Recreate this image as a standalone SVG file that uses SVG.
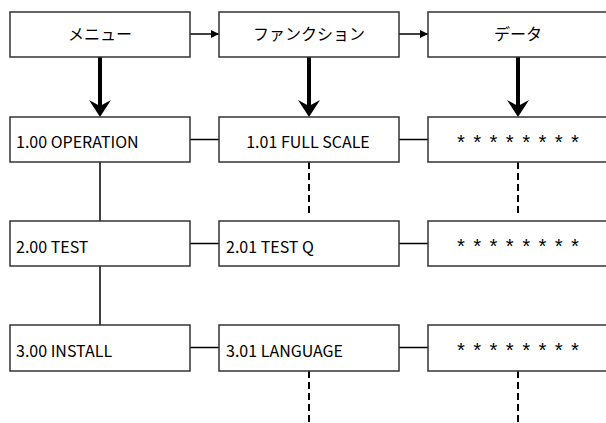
<svg xmlns="http://www.w3.org/2000/svg" width="606" height="423" viewBox="0 0 606 423">
<defs>
<style>
.box{fill:#fff;stroke:#333;stroke-width:1.5}
.jp{font-family:"Noto Sans CJK JP","Noto Sans",sans-serif;font-size:16px;fill:#000;text-anchor:middle}
.lb{font-family:"Noto Sans CJK JP","Noto Sans",sans-serif;font-size:16px;fill:#000}
.st{font-family:"Liberation Mono","DejaVu Sans Mono",monospace;font-size:20px;fill:#000;text-anchor:middle}
.ln{stroke:#000;stroke-width:1.5;fill:none}
.dash{stroke:#000;stroke-width:2;stroke-dasharray:7 4;fill:none}
.thick{stroke:#000;stroke-width:4;fill:none}
</style>
<marker id="ah" viewBox="0 0 10 10" refX="10" refY="5" markerWidth="8" markerHeight="9" markerUnits="userSpaceOnUse" orient="auto">
<path d="M0,0 L10,5 L0,10 Z" fill="#000"/>
</marker>
</defs>
<g id="connectors">
<line class="ln" x1="190" y1="34" x2="219" y2="34" marker-end="url(#ah)"/>
<line class="ln" x1="399" y1="34" x2="428" y2="34" marker-end="url(#ah)"/>
<line class="thick" x1="100" y1="57" x2="100" y2="108"/>
<path d="M100,117 L89,100 L100,106 L111,100 Z" fill="#000"/>
<line class="thick" x1="309" y1="57" x2="309" y2="108"/>
<path d="M309,117 L298,100 L309,106 L320,100 Z" fill="#000"/>
<line class="thick" x1="518" y1="57" x2="518" y2="108"/>
<path d="M518,117 L507,100 L518,106 L529,100 Z" fill="#000"/>
<line class="ln" x1="190" y1="139.5" x2="219" y2="139.5"/>
<line class="ln" x1="399" y1="139.5" x2="428" y2="139.5"/>
<line class="ln" x1="190" y1="243.5" x2="219" y2="243.5"/>
<line class="ln" x1="399" y1="243.5" x2="428" y2="243.5"/>
<line class="ln" x1="190" y1="347.5" x2="219" y2="347.5"/>
<line class="ln" x1="399" y1="347.5" x2="428" y2="347.5"/>
<line class="ln" x1="100" y1="162" x2="100" y2="221"/>
<line class="ln" x1="100" y1="266" x2="100" y2="325"/>
<line class="dash" x1="309" y1="162" x2="309" y2="215"/>
<line class="dash" x1="518" y1="162" x2="518" y2="215"/>
<line class="dash" x1="309" y1="371" x2="309" y2="423"/>
<line class="dash" x1="518" y1="371" x2="518" y2="423"/>
</g>
<g id="menu"><rect class="box" x="10" y="12" width="180" height="45"/><text class="jp" x="100" y="40">メニュー</text></g>
<g id="function"><rect class="box" x="219" y="12" width="180" height="45"/><text class="jp" x="309" y="40">ファンクション</text></g>
<g id="data"><rect class="box" x="428" y="12" width="180" height="45"/><text class="jp" x="518" y="40">データ</text></g>
<g id="op"><rect class="box" x="10" y="117" width="180" height="45"/><text class="lb" x="16" y="148">1.00 OPERATION</text></g>
<g id="fullscale"><rect class="box" x="219" y="117" width="180" height="45"/><text class="lb" x="308" y="148" text-anchor="middle">1.01 FULL SCALE</text></g>
<g id="data1"><rect class="box" x="428" y="117" width="180" height="45"/><text class="st" x="518" y="150" textLength="126" lengthAdjust="spacing">* * * * * * * *</text></g>
<g id="test"><rect class="box" x="10" y="221" width="180" height="45"/><text class="lb" x="16" y="253">2.00 TEST</text></g>
<g id="testq"><rect class="box" x="219" y="221" width="180" height="45"/><text class="lb" x="226" y="253">2.01 TEST Q</text></g>
<g id="data2"><rect class="box" x="428" y="221" width="180" height="45"/><text class="st" x="518" y="254" textLength="126" lengthAdjust="spacing">* * * * * * * *</text></g>
<g id="install"><rect class="box" x="10" y="325" width="180" height="46"/><text class="lb" x="16" y="357">3.00 INSTALL</text></g>
<g id="language"><rect class="box" x="219" y="325" width="180" height="46"/><text class="lb" x="226" y="357">3.01 LANGUAGE</text></g>
<g id="data3"><rect class="box" x="428" y="325" width="180" height="46"/><text class="st" x="518" y="358" textLength="126" lengthAdjust="spacing">* * * * * * * *</text></g>
</svg>
